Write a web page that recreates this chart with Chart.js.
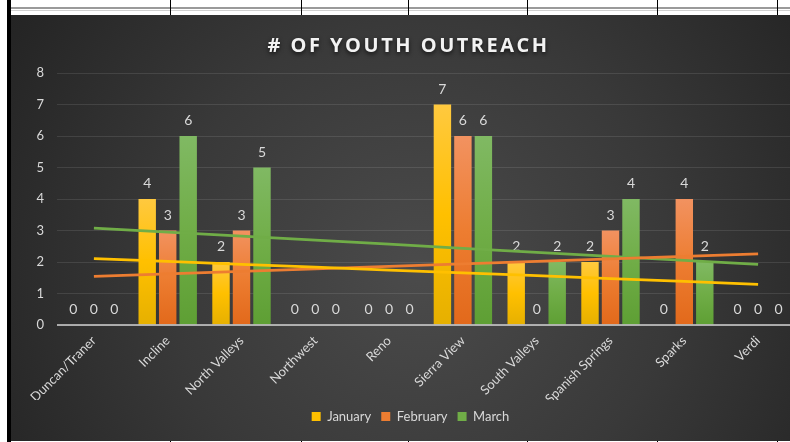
<!DOCTYPE html>
<html>
<head>
<meta charset="utf-8">
<script src="https://cdn.jsdelivr.net/npm/chart.js@4.4.1/dist/chart.umd.min.js"></script>
<style>
  html, body { margin: 0; padding: 0; background: #fff; width: 790px; height: 442px; overflow: hidden; }
  #sheet { position: relative; width: 790px; height: 442px; overflow: hidden; background: #fff; }
  .edge { position: absolute; left: 7px; top: 0; width: 4px; height: 442px; background: #000; }
  .rule { position: absolute; left: 11px; right: 0; }
  .col { position: absolute; width: 1px; background: #000; }
  #wrap { position: absolute; left: 11px; top: 15px; width: 793px; height: 426px; }
</style>
</head>
<body>
<div id="sheet">
  <div class="rule" style="top:7px;height:2px;background:#9a9a9a"></div>
  <div class="rule" style="top:10px;height:1px;background:#d0d0d0"></div>
  <div class="col" style="left:170px;top:0;height:15px"></div>
  <div class="col" style="left:301px;top:0;height:15px"></div>
  <div class="col" style="left:408px;top:0;height:15px"></div>
  <div class="col" style="left:527px;top:0;height:15px"></div>
  <div class="col" style="left:657px;top:0;height:15px"></div>
  <div class="col" style="left:777px;top:0;height:15px"></div>
  <div class="col" style="left:170px;top:441px;height:1px"></div>
  <div class="col" style="left:301px;top:441px;height:1px"></div>
  <div class="col" style="left:408px;top:441px;height:1px"></div>
  <div class="col" style="left:527px;top:441px;height:1px"></div>
  <div class="col" style="left:657px;top:441px;height:1px"></div>
  <div class="col" style="left:777px;top:441px;height:1px"></div>
  <div id="wrap"><canvas id="c"></canvas></div>
  <div class="edge"></div>
</div>
<script>
// Youth outreach counts per site, by month
const sites = ['Duncan/Traner', 'Incline', 'North Valleys', 'Northwest', 'Reno',
               'Sierra View', 'South Valleys', 'Spanish Springs', 'Sparks', 'Verdi'];
const january  = [0, 4, 2, 0, 0, 7, 2, 2, 0, 0];
const february = [0, 3, 3, 0, 0, 6, 0, 3, 4, 0];
const march    = [0, 6, 5, 0, 0, 6, 2, 4, 2, 0];
const monthNames = ['January', 'February', 'March'];
const yMin = 0, yMax = 8, yStep = 1;
const chartTitle = '# OF YOUTH OUTREACH';

// Least-squares linear trend over the category positions 1..n
function linearTrend(values) {
  const n = values.length;
  let sx = 0, sy = 0, sxy = 0, sxx = 0;
  values.forEach((v, i) => { const x = i + 1; sx += x; sy += v; sxy += x * v; sxx += x * x; });
  const slope = (n * sxy - sx * sy) / (n * sxx - sx * sx);
  const intercept = (sy - slope * sx) / n;
  return values.map((_, i) => intercept + slope * (i + 1));
}

// Vertical shading for each bar: lighter at the top, deeper at the base
function barFill(top, mid, bottom) {
  return (ctx) => {
    const chart = ctx.chart;
    if (!chart.chartArea || ctx.type !== 'data' || !ctx.parsed) return mid;
    const y = chart.scales.y;
    const yTop = y.getPixelForValue(ctx.parsed.y);
    const yBase = y.getPixelForValue(0);
    if (yBase - yTop < 1) return mid;
    const g = chart.ctx.createLinearGradient(0, yTop, 0, yBase);
    g.addColorStop(0, top);
    g.addColorStop(0.5, mid);
    g.addColorStop(1, bottom);
    return g;
  };
}

const textColor = '#d9d9d9';
const fontFamily = 'Lato, "Open Sans", sans-serif';

const palette = [
  { top: '#ffc93f', mid: '#ffc000', bottom: '#e6b000', line: '#ffc000' },
  { top: '#f29260', mid: '#ed7d31', bottom: '#e2691b', line: '#ed7d31' },
  { top: '#80b963', mid: '#70ad47', bottom: '#5e9f34', line: '#70ad47' }
];
const series = [january, february, march];

const barSets = series.map((values, k) => ({
  type: 'bar',
  label: monthNames[k],
  data: values,
  order: 1,
  backgroundColor: barFill(palette[k].top, palette[k].mid, palette[k].bottom),
  legendColor: palette[k].mid,
  categoryPercentage: 0.833,
  barPercentage: 0.85,
  borderWidth: 0
}));

const trendSets = series.map((values, k) => ({
  type: 'line',
  label: monthNames[k] + ' trend',
  data: linearTrend(values),
  order: 0,
  isTrend: true,
  borderColor: palette[k].line,
  borderWidth: 2.75,
  pointRadius: 0,
  fill: false,
  tension: 0
}));

// Dark radial backdrop behind the whole chart
const backdrop = {
  id: 'backdrop',
  beforeDraw(chart) {
    const { ctx, width, height } = chart;
    const g = ctx.createRadialGradient(409, 255, 0, 409, 255, 500);
    g.addColorStop(0, '#4b4b4b');
    g.addColorStop(0.5, '#393939');
    g.addColorStop(1, '#222222');
    ctx.save();
    ctx.fillStyle = g;
    ctx.fillRect(0, 0, width, height);
    ctx.restore();
  }
};

// Spaced, shadowed heading
const heading = {
  id: 'heading',
  afterDraw(chart) {
    const ctx = chart.ctx;
    ctx.save();
    ctx.font = 'bold 20px "Open Sans", sans-serif';
    ctx.letterSpacing = '2.5px';
    ctx.textAlign = 'center';
    ctx.textBaseline = 'alphabetic';
    ctx.shadowColor = 'rgba(0,0,0,0.7)';
    ctx.shadowBlur = 4;
    ctx.shadowOffsetY = 2;
    ctx.fillStyle = '#f2f2f2';
    ctx.fillText(chartTitle, chart.width / 2 + 1, 36.5);
    ctx.restore();
  }
};

// Value labels above every bar, including the zero ones
const valueLabels = {
  id: 'valueLabels',
  afterDatasetDraw(chart, args) {
    const ds = chart.data.datasets[args.index];
    if (ds.type !== 'bar') return;
    const ctx = chart.ctx;
    ctx.save();
    ctx.font = '14px ' + fontFamily;
    ctx.fillStyle = textColor;
    ctx.textAlign = 'center';
    ctx.textBaseline = 'middle';
    args.meta.data.forEach((el, i) => {
      ctx.fillText(String(ds.data[i]), el.x, el.y - 15.5);
    });
    ctx.restore();
  }
};

// Category axis line, laid over the bar bases
const baseLine = {
  id: 'baseLine',
  afterDatasetsDraw(chart) {
    const { ctx, chartArea } = chart;
    const y = chart.scales.y.getPixelForValue(0);
    ctx.save();
    ctx.strokeStyle = 'rgba(200,200,200,0.8)';
    ctx.lineWidth = 2;
    ctx.beginPath();
    ctx.moveTo(chartArea.left, y);
    ctx.lineTo(chartArea.right, y);
    ctx.stroke();
    ctx.restore();
  }
};

new Chart(document.getElementById('c'), {
  data: { labels: sites, datasets: [...trendSets, ...barSets] },
  options: {
    responsive: true,
    maintainAspectRatio: false,
    animation: false,
    layout: { padding: { top: 58, left: 15, right: 9, bottom: 8 } },
    plugins: {
      tooltip: { enabled: false },
      title: { display: false },
      legend: {
        position: 'bottom',
        labels: {
          color: textColor,
          font: { family: fontFamily, size: 13 },
          boxWidth: 9,
          boxHeight: 9,
          padding: 10,
          filter: (item, data) => !data.datasets[item.datasetIndex].isTrend,
          generateLabels(chart) {
            const items = Chart.defaults.plugins.legend.labels.generateLabels(chart);
            items.forEach(it => {
              const ds = chart.data.datasets[it.datasetIndex];
              if (ds.legendColor) { it.fillStyle = ds.legendColor; it.strokeStyle = ds.legendColor; }
              it.lineWidth = 0;
            });
            return items;
          }
        }
      }
    },
    scales: {
      x: {
        offset: true,
        grid: { display: false, drawTicks: false },
        border: { display: false },
        ticks: {
          color: textColor,
          font: { family: fontFamily, size: 13 },
          minRotation: 45,
          maxRotation: 45,
          autoSkip: false,
          padding: 8
        },
        afterFit(scale) { scale.height = 75; }
      },
      y: {
        min: yMin,
        max: yMax,
        grid: { color: 'rgba(255,255,255,0.1)', lineWidth: 1, drawTicks: false },
        border: { display: false },
        ticks: {
          stepSize: yStep,
          color: textColor,
          font: { family: fontFamily, size: 13 },
          padding: 13
        },
        afterFit(scale) { scale.width = 31; }
      }
    }
  },
  plugins: [backdrop, heading, valueLabels, baseLine]
});
</script>
</body>
</html>
